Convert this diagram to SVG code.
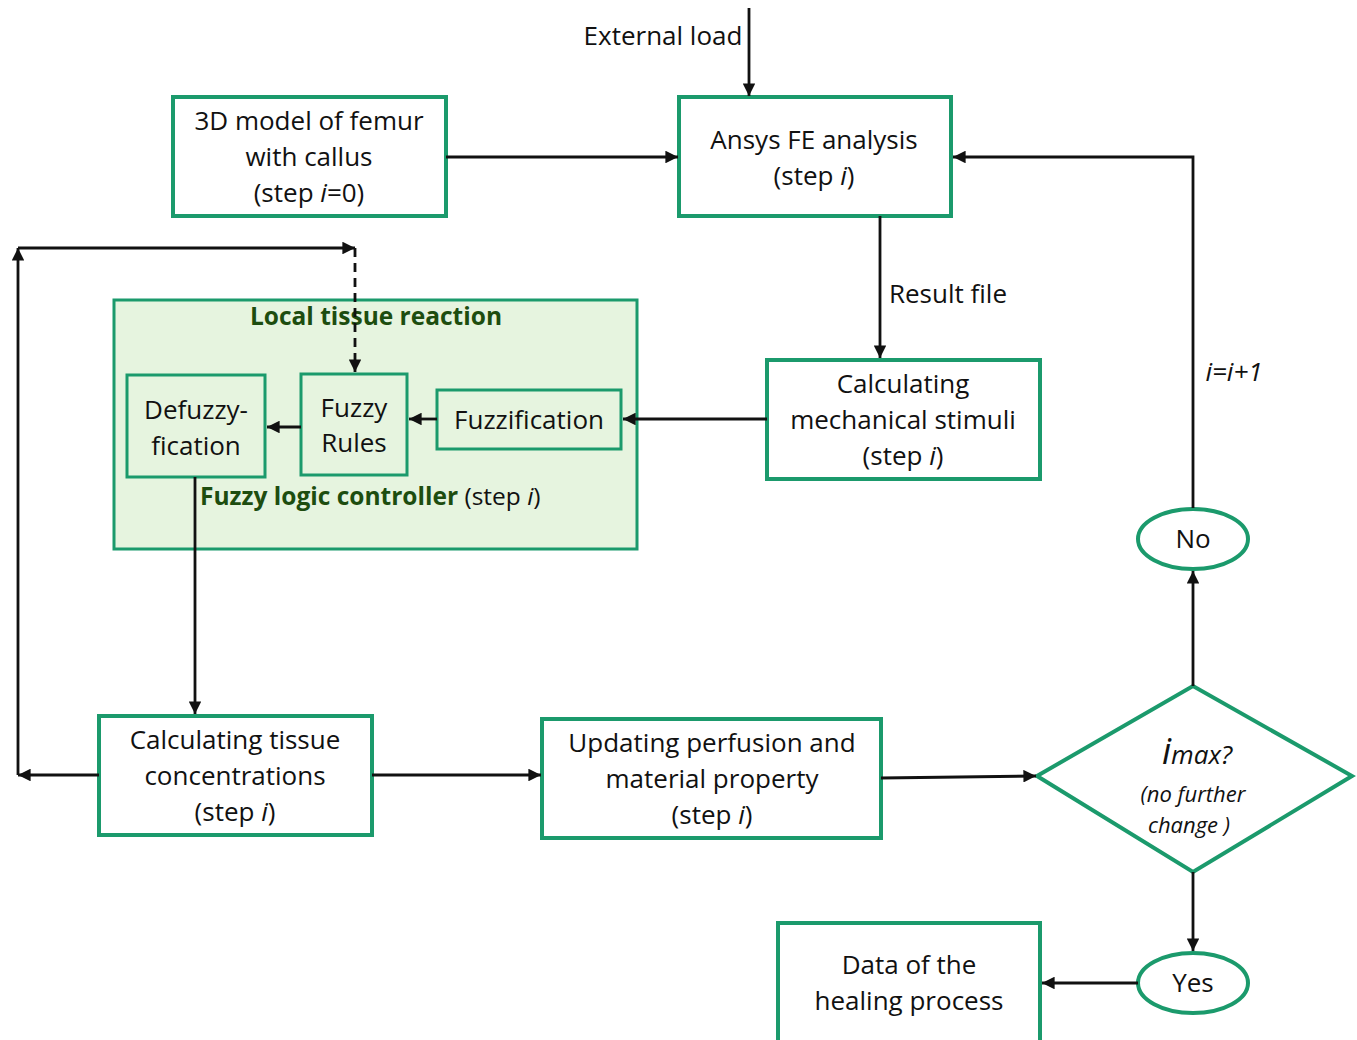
<svg xmlns="http://www.w3.org/2000/svg" width="1357" height="1040" viewBox="0 0 1357 1040">
<defs>
<style>
.box{fill:#fff;stroke:#1b9a6c;stroke-width:4}
.inner{fill:#e6f4df;stroke:#1b9a6c;stroke-width:3}
.t{font-family:"Open Sans","DejaVu Sans",sans-serif;font-size:26px;fill:#111;text-anchor:middle}
.g{font-family:"Open Sans","DejaVu Sans",sans-serif;font-size:24.5px;font-weight:bold;fill:#1d4d0f}
.ln{fill:none;stroke:#111;stroke-width:2.8}
.it{font-style:italic}
.sm{font-size:22px}
</style>
<marker id="ah" viewBox="0 0 10 10" refX="10" refY="5" markerWidth="4.5" markerHeight="4.5" orient="auto-start-reverse" markerUnits="strokeWidth">
<path d="M0,0 L10,5 L0,10 z" fill="#111"/>
</marker>
</defs>
<rect width="1357" height="1040" fill="#fff"/>

<g id="node-3d">
<rect class="box" x="173" y="97" width="273" height="119"/>
<text class="t" x="309" y="130">3D model of femur</text>
<text class="t" x="309" y="166">with callus</text>
<text class="t" x="309" y="202">(step <tspan class="it">i</tspan>=0)</text>
</g>

<g id="node-ansys">
<rect class="box" x="679" y="97" width="272" height="119"/>
<text class="t" x="814" y="149">Ansys FE analysis</text>
<text class="t" x="814" y="185">(step <tspan class="it">i</tspan>)</text>
</g>

<g id="node-mech">
<rect class="box" x="767" y="360" width="273" height="119"/>
<text class="t" x="903" y="393">Calculating</text>
<text class="t" x="903" y="429">mechanical stimuli</text>
<text class="t" x="903" y="465">(step <tspan class="it">i</tspan>)</text>
</g>

<g id="node-flc">
<rect class="inner" x="114" y="300" width="523" height="249" stroke-width="4"/>
<text class="g" x="376" y="325" text-anchor="middle">Local tissue reaction</text>
<text class="g" x="200" y="505">Fuzzy logic controller <tspan font-weight="normal" fill="#111">(step <tspan class="it">i</tspan>)</tspan></text>
</g>

<g id="node-fuzzification">
<rect class="inner" x="437" y="390" width="184" height="59"/>
<text class="t" x="529" y="429">Fuzzification</text>
</g>

<g id="node-rules">
<rect class="inner" x="301" y="374" width="106" height="101"/>
<text class="t" x="354" y="417">Fuzzy</text>
<text class="t" x="354" y="452">Rules</text>
</g>

<g id="node-defuzzy">
<rect class="inner" x="127" y="375" width="138" height="102"/>
<text class="t" x="196" y="419">Defuzzy-</text>
<text class="t" x="196" y="455">fication</text>
</g>

<g id="node-tissue">
<rect class="box" x="99" y="716" width="273" height="119"/>
<text class="t" x="235" y="749">Calculating tissue</text>
<text class="t" x="235" y="785">concentrations</text>
<text class="t" x="235" y="821">(step <tspan class="it">i</tspan>)</text>
</g>

<g id="node-update">
<rect class="box" x="542" y="719" width="339" height="119"/>
<text class="t" x="712" y="752">Updating perfusion and</text>
<text class="t" x="712" y="788">material property</text>
<text class="t" x="712" y="824">(step <tspan class="it">i</tspan>)</text>
</g>

<g id="node-decision">
<polygon class="box" points="1037,776 1193,686 1352,776 1193,872"/>
<text class="t it" x="1197" y="764"><tspan style="font-size:36px">i</tspan>max?</text>
<text class="t it sm" x="1193" y="802">(no further</text>
<text class="t it sm" x="1189" y="833">change )</text>
</g>

<g id="node-no">
<ellipse class="box" cx="1193" cy="539" rx="55" ry="30"/>
<text class="t" x="1193" y="548">No</text>
</g>

<g id="node-yes">
<ellipse class="box" cx="1193" cy="983" rx="55" ry="30"/>
<text class="t" x="1193" y="992">Yes</text>
</g>

<g id="node-data">
<rect class="box" x="778" y="923" width="262" height="130"/>
<text class="t" x="909" y="974">Data of the</text>
<text class="t" x="909" y="1010">healing process</text>
</g>

<g id="connectors">
<line class="ln" x1="749" y1="8" x2="749" y2="96" marker-end="url(#ah)"/>
<line class="ln" x1="446" y1="157" x2="678" y2="157" marker-end="url(#ah)"/>
<polyline class="ln" points="1193,508 1193,157 953,157" marker-end="url(#ah)"/>
<line class="ln" x1="880" y1="216" x2="880" y2="358" marker-end="url(#ah)"/>
<line class="ln" x1="767" y1="419" x2="623" y2="419" marker-end="url(#ah)"/>
<line class="ln" x1="437" y1="419" x2="409" y2="419" marker-end="url(#ah)"/>
<line class="ln" x1="301" y1="427" x2="267" y2="427" marker-end="url(#ah)"/>
<line class="ln" x1="195" y1="477" x2="195" y2="714" marker-end="url(#ah)"/>
<polyline class="ln" points="99,775 18,775" marker-end="url(#ah)"/>
<polyline class="ln" points="18,775 18,248" marker-end="url(#ah)"/>
<polyline class="ln" points="18,248 355,248" marker-end="url(#ah)"/>
<line class="ln" x1="355" y1="248" x2="355" y2="372" stroke-dasharray="9,6" marker-end="url(#ah)"/>
<line class="ln" x1="372" y1="775" x2="541" y2="775" marker-end="url(#ah)"/>
<line class="ln" x1="881" y1="778" x2="1036" y2="776" marker-end="url(#ah)"/>
<line class="ln" x1="1193" y1="686" x2="1193" y2="571" marker-end="url(#ah)"/>
<line class="ln" x1="1193" y1="872" x2="1193" y2="951" marker-end="url(#ah)"/>
<line class="ln" x1="1138" y1="983" x2="1042" y2="983" marker-end="url(#ah)"/>
<text class="t" x="663" y="45">External load</text>
<text class="t" x="948" y="303">Result file</text>
<text class="t it" x="1234" y="381">i=i+1</text>
</g>
</svg>
